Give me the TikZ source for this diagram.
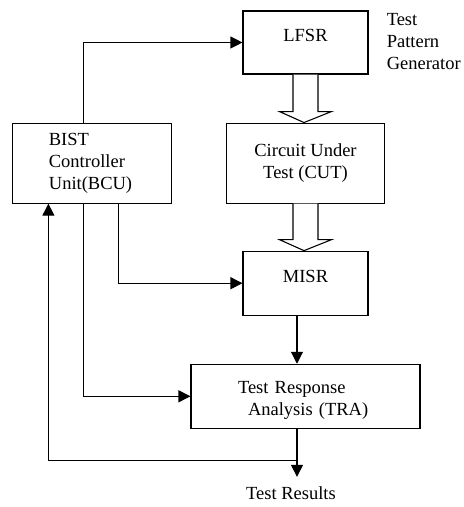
\documentclass[tikz,border=0pt]{standalone}
\usepackage{fontspec}
\setmainfont{Liberation Serif}
\usetikzlibrary{arrows.meta,positioning}

\begin{document}
\begin{tikzpicture}[x=1pt, y=1pt,
        font=\fontsize{18.5}{22}\selectfont,
        blk/.style={rectangle, draw=black, line width=1.1pt, inner sep=0pt},  % block of the BIST scheme
        wire/.style={line width=1.1pt, -{Triangle[length=12pt, width=12pt]}},
    ]
        \useasboundingbox (0,0) rectangle (464,-507);

        %Nodes
        \node[blk, minimum width=125pt, minimum height=63pt, text depth=14pt] (LFSR) at (305.5,-42.5) {LFSR};
        \node[blk, minimum width=158pt, minimum height=80pt, align=center] (CUT) [below=48pt of LFSR] {Circuit Under\\Test (CUT)};
        \node[blk, minimum width=125pt, minimum height=64pt, text depth=14pt] (MISR) [below=47pt of CUT] {MISR};
        \node[blk, minimum width=229pt, minimum height=64pt, text width=135pt, align=left] (TRA) [below=48pt of MISR] {\rule{0pt}{21pt}Test Response\\\hspace*{10pt}Analysis (TRA)};
        \node[blk, minimum width=159pt, minimum height=80pt, text width=86pt, align=left] (BCU) [left=54pt of CUT] {BIST\\Controller\\Unit(BCU)};
        \node[anchor=north west, align=left, inner sep=0pt] (TPG) at ([xshift=18pt, yshift=-3pt]LFSR.north east) {Test\\Pattern\\Generator};
        \coordinate (Junc) at ([xshift=-8.5pt, yshift=-32pt]TRA.south);
        \coordinate (Tip) at ([xshift=-8.5pt, yshift=-48pt]TRA.south);
        \node (Results) [below=6pt of Tip, xshift=-6pt] {Test Results};

        %Hollow arrows
        \foreach \a/\b in {LFSR/CUT, CUT/MISR}
            \draw[line width=1.1pt, fill=white] ([xshift=-12.5pt]\a.south) -- ([xshift=-12.5pt, yshift=11pt]\b.north) -- ([xshift=-26pt, yshift=11pt]\b.north) -- ([xshift=-1.5pt]\b.north) -- ([xshift=26pt, yshift=11pt]\b.north) -- ([xshift=12.5pt, yshift=11pt]\b.north) -- ([xshift=12.5pt]\a.south);

        %Lines
        \draw[wire] ([xshift=-8.5pt]BCU.north) |- (LFSR.west);
        \draw[wire] ([xshift=26.5pt]BCU.south) |- (MISR.west);
        \draw[wire] ([xshift=-8.5pt]BCU.south) |- (TRA.west);
        \draw[wire] ([xshift=-8.5pt]MISR.south) -- ([xshift=-8.5pt]TRA.north);
        \draw[wire] ([xshift=-8.5pt]TRA.south) -- (Tip);
        \draw[wire] (Junc) -| ([xshift=-43.5pt]BCU.south);
    \end{tikzpicture}
\end{document}
